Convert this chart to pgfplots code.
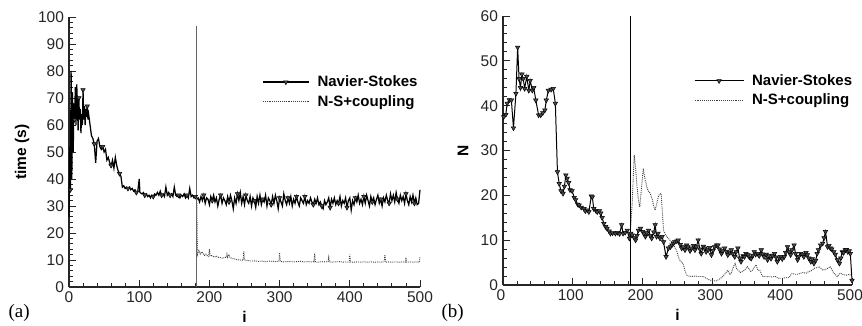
\documentclass[border=0pt]{standalone}
\usepackage{fontspec}
\setmainfont{Liberation Sans}
\newfontfamily\seriffont{Liberation Serif}
\usepackage{pgfplots}
\pgfplotsset{compat=1.18}
\pgfplotsset{
 mystyle/.style={
  scale only axis,
  axis x line=bottom, axis y line=left,
  axis line style={-, line width=1.1pt, black!85},
  tick align=inside, major tick length=7pt, minor tick length=4pt,
  every tick/.style={line width=0.9pt, black!85},
  minor x tick num=4, minor y tick num=4,
  xmin=0, xmax=500, xtick={0,100,...,500},
  ticklabel style={font=\fontsize{15.5}{18}\selectfont, text=black!85},
  yticklabel style={xshift=-1.5pt},
  xticklabel style={yshift=-1pt},
  /pgf/number format/assume math mode=true,
  every axis x label/.style={at={(rel axis cs:0.5,0)}, yshift=-30pt, anchor=center, font=\fontsize{15.5}{18}\selectfont\bfseries},
  legend style={draw=none, fill=none, font=\fontsize{15}{18}\selectfont\bfseries,
    inner sep=0pt, row sep=3pt, /tikz/every odd column/.append style={column sep=6pt}},
  legend cell align=left,
  clip=false,
 },
 nsstyle/.style={black, line width=1pt, mark=triangle*, mark size=2.6pt,
   mark options={rotate=180, fill=black!70, solid, line width=0.5pt}},
 cpstyle/.style={black!75, line width=0.9pt, densely dotted},
}
\begin{document}
\begin{tikzpicture}
\useasboundingbox (0,0) rectangle (862pt,325pt);
\begin{axis}[mystyle, width=351pt, height=270pt, at={(69pt,38pt)}, anchor=south west,
  ymin=0, ymax=100, ytick={0,10,...,100},
  xlabel={i}, ylabel={time (s)},
  every axis y label/.style={at={(rel axis cs:0,0.5)}, xshift=-47pt, rotate=90, anchor=center, font=\fontsize{15.5}{18}\selectfont\bfseries},
  legend style={at={(0.55,0.79)}, anchor=north west},
  legend image code/.code={\draw[#1,mark repeat=2,mark phase=2] plot coordinates {(0pt,0pt)(23pt,0pt)(46pt,0pt)};}]
\addplot[nsstyle, line width=1.25pt, mark repeat=6, mark phase=3] coordinates {
(0,26)(1,52)(2,36)(3,80)(4,40)(5,72)(6,50)(7,68)(8,62)(9,74)(10,60)(11,75)(12,68)(13,58)(14,70)(15,62)(16,66)(17,57)(18,64)(19,60)(20,73)(21,62)(22,67)(23,60)(24,66)(25,63)(26,67)(27,62)(28,64)(30,60)(32,56)(34,55)(36,53)(38,46)(40,54)(42,55)(44,52)(46,51)(48,52)(50,50)(52,51)(54,47)(56,48)(58,46)(60,45)(62,47)(64,44)(66,48)(68,45)(70,43)(72,42)(74,41)(76,37)(78,37.5)(80,36.5)(82,37)(84,36.5)(86,37)(88,36)(90,36.5)(92,35.5)(94,36)(96,35)(98,35.5)(100,40)(101,35)(104,34.5)(106,35)(108,34)(110,34.5)(112,33.5)(114,34)(116,33)(118,34)(120,33.5)(122,34.5)(124,34)(126,35)(128,34)(130,35.5)(132,34)(134,34.5)(136,33.5)(138,37)(140,34)(142,35)(144,34)(146,34.5)(148,33.5)(150,37)(152,34)(154,33.5)(156,34)(158,33)(160,34)(162,33.5)(164,34.5)(166,33)(168,34)(170,33)(172,36.5)(174,33.5)(176,34)(178,33)(180,33.5)(182,32.5)(184,33)
(186,31.5)(188,33.5)(190,32)(192,34)(194,31)(196,33)(198,32.5)(200,30.5)(202,33.5)(204,32)(206,34)(208,31.5)(210,33)(212,30)(214,32.5)(216,34)(218,31)(220,33)(222,32)(224,30.5)(226,33.5)(228,31.5)(230,34)(232,32)(234,29)(236,33)(238,31)(240,34.5)(242,32)(244,35)(246,31)(248,33.5)(250,30.5)(252,34)(254,32)(256,31)(258,33.5)(260,30)(262,33)(264,32)(266,29.5)(268,33.5)(270,31)(272,34)(274,30.5)(276,32.5)(278,31.5)(280,34)(282,30)(284,33)(286,32)(288,30.5)(290,33.5)(292,31)(294,34)(296,32)(298,29)(300,33)(302,31.5)(304,30)(306,34.5)(308,32)(310,30.5)(312,33)(314,31)(316,33.5)(318,30)(320,32.5)(322,31)(324,33.5)(326,31.5)(328,30)(330,33)(332,32)(334,31)(336,33.5)(338,30.5)(340,32)(342,31)(344,33)(346,31.5)(348,30.5)(350,32.5)(352,31)(354,33)(356,30.5)(358,31.5)(360,30)(362,29)(364,32)(366,30.5)(368,31.5)(370,33)(372,29.5)(374,32.5)(376,31)(378,33)(380,30.5)(382,32)(384,31)(386,33.5)(388,30)(390,32)(392,31)(394,33)(396,29.5)(398,32)(400,33)(402,28.5)(404,32)(406,30.5)(408,33)(410,31.5)(412,34)(414,31)(416,32.5)(418,30.5)(420,33.5)(422,31)(424,34)(426,32)(428,30)(430,33.5)(432,31.5)(434,33)(436,30.5)(438,32.5)(440,34)(442,31)(444,32.5)(446,30)(448,33)(450,31.5)(452,34)(454,32)(456,31)(458,34.5)(460,32)(462,34)(464,31.5)(466,35)(468,32.5)(470,31)(472,34)(474,32)(476,33.5)(478,31)(480,34.5)(482,32)(484,30.5)(486,33.5)(488,31.5)(490,34)(492,31)(494,33)(496,30.5)(498,31)(500,36)
};
\addlegendentry{Navier-Stokes}
\addplot[cpstyle] coordinates {
(182,32.5)(183,12)(185,13.5)(187,12.2)(189,13)(191,12.5)(193,11.7)(195,12.2)(197,11.6)(199,11.3)(200,14)(201,11.6)(204,11.6)(207,11.1)(210,11.4)(213,11)(216,10.9)(219,10.6)(222,11)(224,11)(225,12.2)(226,11)(228,12.1)(229,11)(232,10.6)(236,10.4)(240,10.1)(244,10)(248,9.9)(249,13.2)(250,10)(255,9.8)(260,9.6)(265,9.7)(270,9.5)(275,9.6)(280,9.4)(285,9.6)(290,9.5)(295,9.4)(299,9.6)(300,12.5)(301,9.5)(305,9.3)(310,9.4)(315,9.5)(320,9.3)(325,9.4)(330,9.5)(335,9.3)(340,9.4)(345,9.3)(349,9.4)(350,12.5)(351,9.3)(355,9.2)(360,9.4)(365,9.3)(369,9.4)(370,11)(371,9.3)(375,9.2)(380,9.3)(385,9.4)(390,9.2)(395,9.3)(399,9.2)(400,12)(401,9.3)(405,9.2)(410,9.3)(415,9.2)(420,9.3)(425,9.2)(430,9.3)(435,9.2)(440,9.3)(445,9.2)(449,9.3)(450,12)(451,9.2)(455,9.3)(460,9.2)(465,9.3)(470,9.2)(475,9.3)(479,9.2)(480,11)(481,9.2)(485,9.3)(490,9.2)(495,9.3)(499,9.2)(500,11)
};
\addlegendentry{N-S+coupling}
\addplot[black!60, line width=1pt, forget plot] coordinates {(182,0)(182,96.5)};
\end{axis}
\begin{axis}[mystyle, width=349pt, height=269pt, at={(503pt,40pt)}, anchor=south west,
  ymin=0, ymax=60, ytick={0,10,...,60},
  xlabel={i}, ylabel={N},
  xticklabel style={xshift=-2pt},
  every axis y label/.style={at={(rel axis cs:0,0.5)}, xshift=-40pt, rotate=90, anchor=center, font=\fontsize{15.5}{18}\selectfont\bfseries},
  legend style={at={(0.547,0.79)}, anchor=north west},
  legend image code/.code={\draw[#1,mark repeat=2,mark phase=2] plot coordinates {(0pt,0pt)(24.5pt,0pt)(49pt,0pt)};}]
\addplot[nsstyle] coordinates {
(1,37.5)(4,38)(6,40.5)(9,41.3)(12,41.2)(15,35)(18.5,42.7)(21,53)(23,46)(25,44)(27,47)(29,46)(31,43.8)(34,46.5)(37,43.4)(39,45.6)(42,43.4)(44,44)(47,41.2)(51,37.9)(54,37.9)(57,38.4)(60,39)(62,41.2)(65,43.4)(69,43.6)(72,43.8)(75,40.5)(78,25.2)(80.5,22.6)(83,21)(86,20.4)(88,22)(90,24.5)(92,23.8)(94,22.8)(96,21.2)(99,21)(102,19.5)(104,19)(107,18)(109,17.8)(112,17.3)(116,17)(118,16.5)(121,16.7)(123,16.3)(126.5,19.8)(128,19.6)(130,17)(133,16.6)(135,16.3)(138,16.5)(140,16)(142,15)(144.5,13.7)(147,13)(149,12.6)(152,12)(154,11.5)(157,11.6)(161,11.5)(164,11.7)(167,11.4)(170,13.4)(172,11.5)(175,11.7)(178,12.2)(181,10.4)(183,11.5)(185,11.1)(188,10.5)(190,10)(192,11)(194,12.2)(197,12.6)(200,11.9)(202,11.5)(204,10.8)(206,11.6)(208.5,12.2)(211,11)(213,10.4)(216,11.8)(218,13.4)(220,10.8)(222,11.5)(225,10.4)(228,10.8)(230,9.6)(233.6,6.3)(237,8.2)(240,8.5)(242,8.9)(244,9.3)(246,9.6)(249,9.8)(251,10)(254,9)(256,8.2)(258,8.5)(260.7,7.8)(263,8.9)(265,8.5)(268,7.6)(270,8.2)(273,8.8)(275,7.8)(277,8.5)(279.6,10)(282,8)(284,7)(287,8.6)(289,8.2)(291,7.4)(294,7.8)(296,8.3)(298.6,6.7)(301,7.7)(303,8.5)(306,8.9)(308,8.9)(310,8)(313,7)(315,7.6)(317.5,8.2)(320,7.5)(322,6.7)(325,7.2)(327,7.8)(329,7)(332,6.3)(334,7.4)(336.5,8.2)(339,6)(341,5.2)(344,6.5)(346,6.3)(348,7)(351,6.7)(353,6.2)(355.5,5.9)(358,6.6)(360,7.4)(362,6.8)(365,7)(367,6.5)(370,7.8)(372,6.9)(374,6.3)(377,6.8)(379,5.6)(381,6.5)(384,5.9)(386,6.6)(389,7)(391,6.2)(393,5.2)(396,6)(398,6.3)(400,5.8)(403,6.3)(405,7.2)(407.6,8.5)(410,7.4)(412,6.7)(414,7.8)(417,8.9)(419,7)(422,5.6)(424,6.4)(426.5,7)(429,6.8)(431,6.3)(434,7.2)(436,6.7)(438,6)(441,5.2)(443,5.8)(445.5,4.8)(448,5.5)(450,7)(452,7.8)(455,8.9)(458,9.3)(460,10.5)(462,11.9)(465,8.5)(467,8.8)(469,8.2)(471,8)(474,7.4)(476,6.8)(479,5.6)(482,4.8)(484,6)(486,7.4)(488,7.2)(490.5,7.8)(492,7.9)(494,7.4)(496,7.6)(497.6,7)(500,1)
};
\addlegendentry{Navier-Stokes}
\addplot[cpstyle] coordinates {
(181,10.4)(183,13)(185,18)(188,29)(190,26)(192,21.9)(194,19)(196,17.4)(198,21)(201,26)(203,24)(206,21.9)(208,21)(211,20.4)(214,19)(216,17.5)(218,16.7)(220,18)(223,20)(226.5,20.4)(228,17)(230,12.2)(232,11.5)(234.6,10.8)(237,10.4)(239,10)(242,9.5)(246,8.5)(249,7.5)(252.6,5.6)(255,5.2)(258,4.8)(260,3.5)(263,2.2)(266,2)(270,1.9)(275,2)(280,1.9)(287,1.9)(290,1.6)(296,1.1)(300,1)(305,0.9)(310,1.3)(315,1.9)(318,2.5)(322,3.3)(325,2.4)(327,2.6)(330,4)(332.5,4.8)(335,3.5)(337,3.3)(340,2.8)(343,3)(346,3.3)(350,4.1)(353,3.5)(355,3)(358,3.4)(360,4)(362.5,4.5)(365,3.3)(368,3.3)(370,2.5)(372,1.9)(378,1.9)(385,1.8)(390,1.9)(395,1.5)(400,1.5)(405,1.6)(410,1.7)(414,2.6)(418,2.4)(422,2.4)(426,2.6)(430,2.8)(434,2.6)(438,3)(442,3.2)(446,3.7)(450,3.9)(453,4.1)(455,3.8)(458,3.3)(462,3.5)(465,3.7)(469,4.1)(471,3.5)(474,2.6)(477,2.2)(479,1.9)(482,2.5)(484,2.6)(488,2.3)(492,2.2)(496,2.4)(500,1.9)
};
\addlegendentry{N-S+coupling}
\addplot[black, line width=0.8pt, forget plot] coordinates {(182,0)(182,60)};
\end{axis}
\node[anchor=west, font=\seriffont\fontsize{19}{20}\selectfont] at (5pt,12pt) {(a)};
\node[anchor=west, font=\seriffont\fontsize{19}{20}\selectfont] at (438pt,12pt) {(b)};
\end{tikzpicture}
\end{document}
